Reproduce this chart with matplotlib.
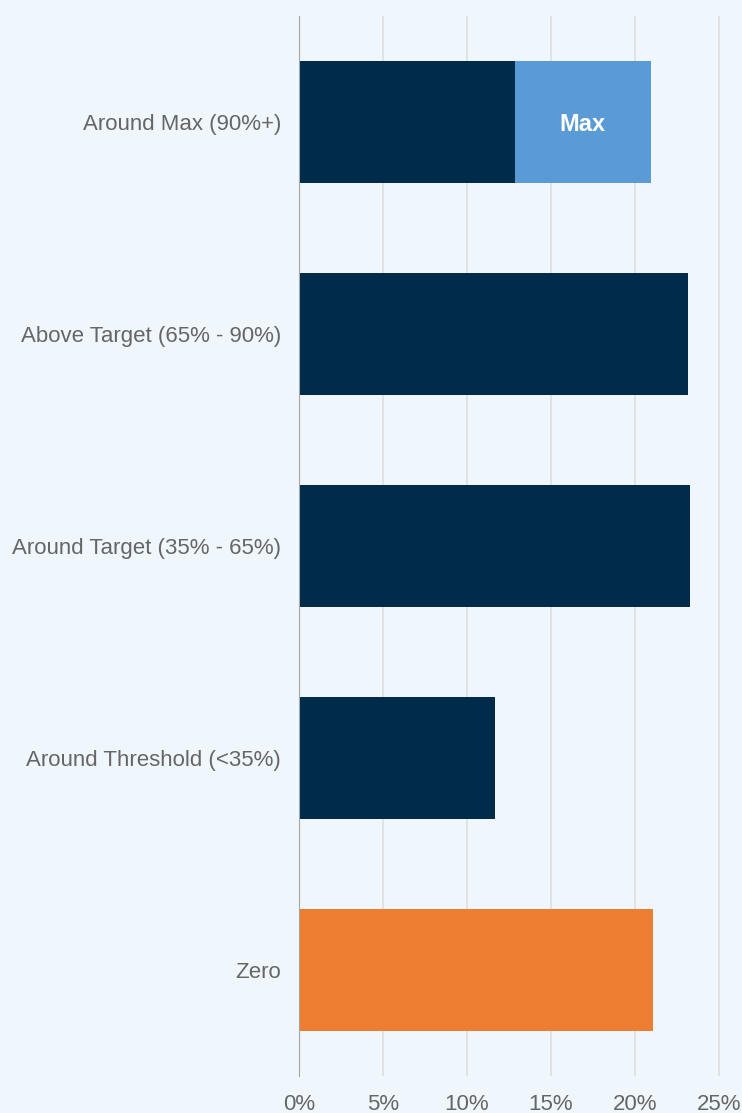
import matplotlib.pyplot as plt

categories = ["Around Max (90%+)", "Above Target (65% - 90%)", "Around Target (35% - 65%)",
              "Around Threshold (<35%)", "Zero"]
base_values = [12.85, 23.15, 23.3, 11.65, 21.05]
max_extra = [8.1, 0, 0, 0, 0]
bar_colors = ["#002B49", "#002B49", "#002B49", "#002B49", "#ED7D31"]
ticks = [0, 5, 10, 15, 20, 25]

bg = "#EFF7FD"
plt.rcParams['font.family'] = ['Liberation Sans', 'DejaVu Sans']

fig = plt.figure(figsize=(7.42, 11.13), dpi=100, facecolor=bg)
ax = fig.add_axes([299/742, 1 - 1076/1113, 1 - 299/742, 1060/1113])
ax.set_facecolor(bg)

y = list(range(len(categories)))
ax.barh(y, base_values, height=0.571, color=bar_colors, zorder=3)
ax.barh(y, max_extra, left=base_values, height=0.571, color="#5B9BD5", zorder=3)
for i, v in enumerate(max_extra):
    if v > 0:
        ax.text(base_values[i] + v / 2, i + 0.012, "Max", color="white", fontsize=17,
                fontweight="bold", ha="center", va="center", zorder=4)

ax.set_ylim(len(categories) - 0.5, -0.5)
ax.set_xlim(0, (742 - 299) / 16.8)
ax.set_yticks(y)
ax.set_yticklabels(categories)
ax.set_xticks(ticks)
ax.set_xticklabels([f"{t}%" for t in ticks])
ax.tick_params(axis="both", length=0, labelsize=16, labelcolor="#666666")
ax.tick_params(axis="y", pad=13)
ax.tick_params(axis="x", pad=13)
ax.grid(axis="x", color="#DCDFE2", linewidth=1.2, zorder=0)
for s in ["top", "right", "bottom"]:
    ax.spines[s].set_visible(False)
ax.spines["left"].set_color("#A6A6A6")
ax.spines["left"].set_zorder(5)

fig.savefig("out.png", dpi=100, facecolor=bg)
